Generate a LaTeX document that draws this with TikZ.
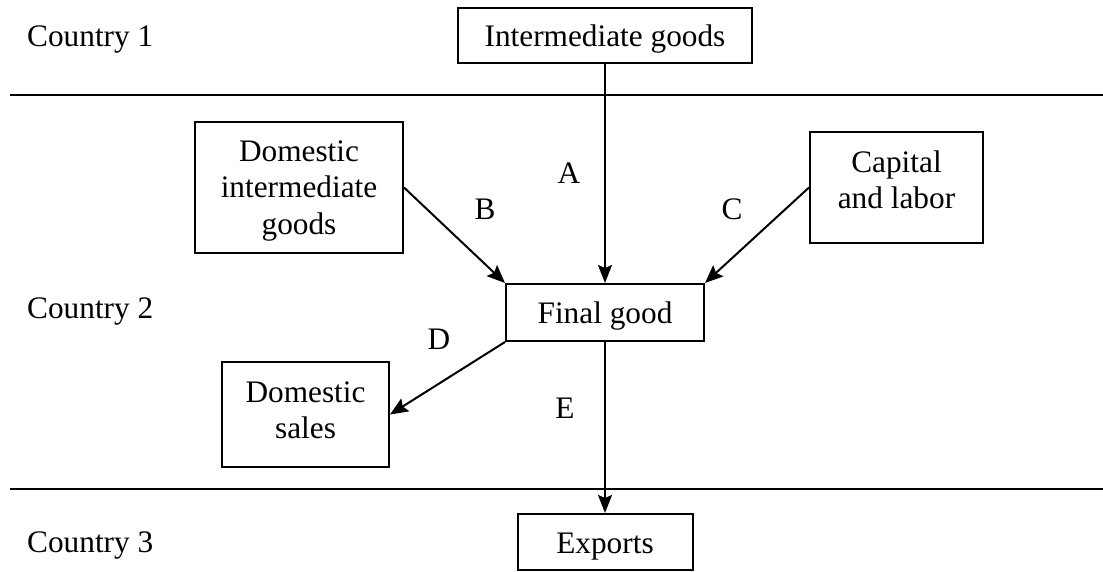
\documentclass[tikz,border=0pt]{standalone}
\usepackage{fontspec}
\setmainfont{Liberation Serif}
\usetikzlibrary{arrows.meta}
\newcommand{\stxt}[2][0pt]{\raisebox{-#1}[\height][\depth]{\begin{tabular}{@{}c@{}}#2\end{tabular}}}
\begin{document}
\begin{tikzpicture}[x=1pt,y=-1pt,
 box/.style={draw,line width=2pt,inner sep=0pt,align=center,font=\fontsize{31.3}{36.5}\selectfont},
 lbl/.style={inner sep=0pt,font=\fontsize{31.3}{36.5}\selectfont},
 arr/.style={line width=2pt,-{Stealth[length=18pt,width=15pt,inset=3pt]}},
 varr/.style={line width=1.7pt,-{Stealth[length=18pt,width=14pt,inset=3pt]}},
 sep/.style={line width=2pt}]
\useasboundingbox (0,0) rectangle (1103,572);
\draw[sep] (10,95) -- (1103,95);
\draw[sep] (10,489) -- (1103,489);
\node[box,minimum width=294pt,minimum height=55pt] (ig) at (605,35.5) {\stxt[4.2pt]{Intermediate goods}};
\node[box,minimum width=208pt,minimum height=131pt] (di) at (299,187.5) {\stxt[3.2pt]{Domestic\\intermediate\\goods}};
\node[box,minimum width=173pt,minimum height=111pt] (cl) at (896.5,187.5) {\stxt[-4.5pt]{Capital\\and labor}};
\node[box,minimum width=198pt,minimum height=57pt] (fg) at (605,312.5) {\stxt[3.2pt]{Final good}};
\node[box,minimum width=167pt,minimum height=105pt] (ds) at (305.5,414.5) {\stxt[-1.5pt]{Domestic\\sales}};
\node[box,minimum width=175pt,minimum height=56pt] (ex) at (605,542) {\stxt[3.7pt]{Exports}};
\node[lbl,anchor=base west] (c1) at (27,47) {Country 1};
\node[lbl,anchor=base west] (c2) at (27,318) {Country 2};
\node[lbl,anchor=base west] (c3) at (27,552) {Country 3};
\node[lbl,anchor=base] (la) at (569,184) {A};
\node[lbl,anchor=base] (lb) at (485,220) {B};
\node[lbl,anchor=base] (lc) at (732,220) {C};
\node[lbl,anchor=base] (ld) at (439,349) {D};
\node[lbl,anchor=base] (le) at (565,418) {E};
\draw[varr] (ig.south) -- (ig.south |- fg.north);
\draw[arr] (di.east) -- (fg.north west);
\draw[arr] (cl.west) -- (fg.north east);
\draw[arr] (fg.south west) -- (ds.east);
\draw[varr] (fg.south -| ex.north) -- (ex.north);
\end{tikzpicture}
\end{document}
